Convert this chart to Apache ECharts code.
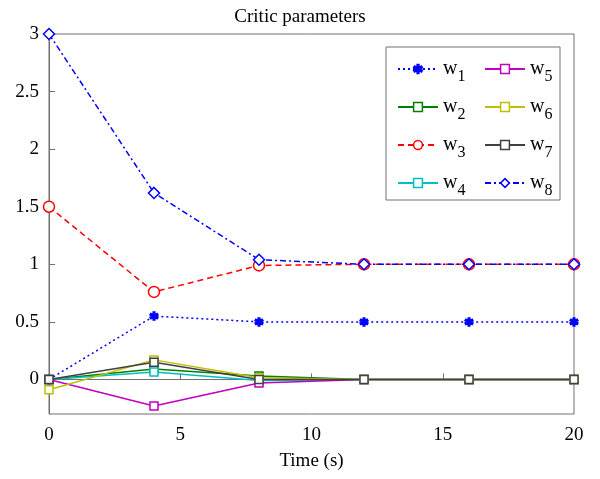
<!DOCTYPE html>
<html><head><meta charset="utf-8">
<script src="https://cdn.jsdelivr.net/npm/echarts@6/dist/echarts.min.js"></script>
<style>html,body{margin:0;padding:0;background:#fff}#c{width:600px;height:479px}</style>
</head><body><div id="c"></div>
<script>
var times = [0, 4, 8, 12, 16, 20];
var w1 = [0, 0.55, 0.5, 0.5, 0.5, 0.5];
var w2 = [0, 0.09, 0.03, 0, 0, 0];
var w3 = [1.5, 0.76, 0.99, 1, 1, 1];
var w4 = [0, 0.065, -0.01, 0, 0, 0];
var w5 = [0, -0.23, -0.03, 0, 0, 0];
var w6 = [-0.09, 0.17, 0.015, 0, 0, 0];
var w7 = [0, 0.15, 0, 0, 0, 0];
var w8 = [3, 1.62, 1.04, 1, 1, 1];
var yTicks = [0, 0.5, 1, 1.5, 2, 2.5, 3];
var xTicks = [0, 5, 10, 15, 20];

var F = 'Liberation Serif, Times New Roman, serif';
function pairs(v){ return times.map(function(t,i){ return [t, v[i]]; }); }
var asterisk = 'path://M-1,-6L1,-6L1,-2.7L3.9,-4.4L4.9,-2.6L2,-1L4.9,0.6L3.9,2.4L1,0.7L1,4L-1,4L-1,0.7L-3.9,2.4L-4.9,0.6L-2,-1L-4.9,-2.6L-3.9,-4.4L-1,-2.7Z';
function ser(name, data, color, type, symbol, size, filled){
  return {
    name: name, type: 'line', data: pairs(data),
    symbol: symbol, symbolSize: size, showSymbol: true,
    lineStyle: {color: color, width: 1.5, type: type},
    itemStyle: {color: filled ? color : '#fff', borderColor: color, borderWidth: 1.5},
    z: 3
  };
}
var series = [
  ser('w1', w1, '#0000ff', [2,3], asterisk, 8, true),
  ser('w2', w2, '#008000', 'solid', 'rect', 8, false),
  ser('w3', w3, '#ff0000', [6,4], 'circle', 11, false),
  ser('w4', w4, '#00bfbf', 'solid', 'rect', 8, false),
  ser('w5', w5, '#bf00bf', 'solid', 'rect', 8, false),
  ser('w6', w6, '#bfbf00', 'solid', 'rect', 8, false),
  ser('w7', w7, '#404040', 'solid', 'rect', 8, false),
  ser('w8', w8, '#0000ff', [6,3,2,3], 'diamond', 11, false)
];
var legText = {
  fontFamily: F, fontSize: 20, color: '#000',
  rich: {s: {fontFamily: F, fontSize: 16, color: '#000', padding: [16,0,0,0]}}
};
function fmt(n){ return 'w{s|' + n.slice(1) + '}'; }
var chart = echarts.init(document.getElementById('c'));
chart.setOption({
  animation: false,
  backgroundColor: '#fff',
  title: {text: 'Critic parameters', left: 'center', top: 3,
    textStyle: {fontFamily: F, fontSize: 19, fontWeight: 'normal', color: '#000'}},
  grid: {left: 49, right: 26, top: 34, bottom: 65, show: true, borderColor: '#707070', borderWidth: 1},
  graphic: [{type: 'rect', shape: {x: 386, y: 47, width: 174, height: 153},
    style: {fill: '#fff', stroke: '#707070', lineWidth: 1}, z: 5}],
  legend: [
    {data: ['w1','w2','w3','w4'], orient: 'vertical', left: 392, top: 54, itemWidth: 40, itemHeight: 11,
     itemGap: 12, formatter: fmt, textStyle: legText, z: 6, itemStyle: {borderWidth: 1.5}},
    {data: ['w5','w6','w7','w8'], orient: 'vertical', left: 479, top: 54, itemWidth: 40, itemHeight: 11,
     itemGap: 12, formatter: fmt, textStyle: legText, z: 6, itemStyle: {borderWidth: 1.5}}
  ],
  xAxis: {type: 'value', min: 0, max: 20, interval: 5,
    name: 'Time (s)', nameLocation: 'middle', nameGap: 38,
    nameTextStyle: {fontFamily: F, fontSize: 19, color: '#000'},
    axisLine: {show: true, lineStyle: {color: '#707070'}},
    axisTick: {show: true, inside: true, length: 6, lineStyle: {color: '#707070'}},
    axisLabel: {fontFamily: F, fontSize: 19, color: '#000', margin: 12},
    splitLine: {show: false}},
  yAxis: {type: 'value', min: -0.3, max: 3,
    axisLine: {show: true, lineStyle: {color: '#707070'}},
    axisTick: {show: true, inside: true, length: 6, lineStyle: {color: '#707070'}, customValues: yTicks},
    axisLabel: {fontFamily: F, fontSize: 19, color: '#000', margin: 10, customValues: yTicks},
    splitLine: {show: false}},
  series: series
});
</script></body></html>
